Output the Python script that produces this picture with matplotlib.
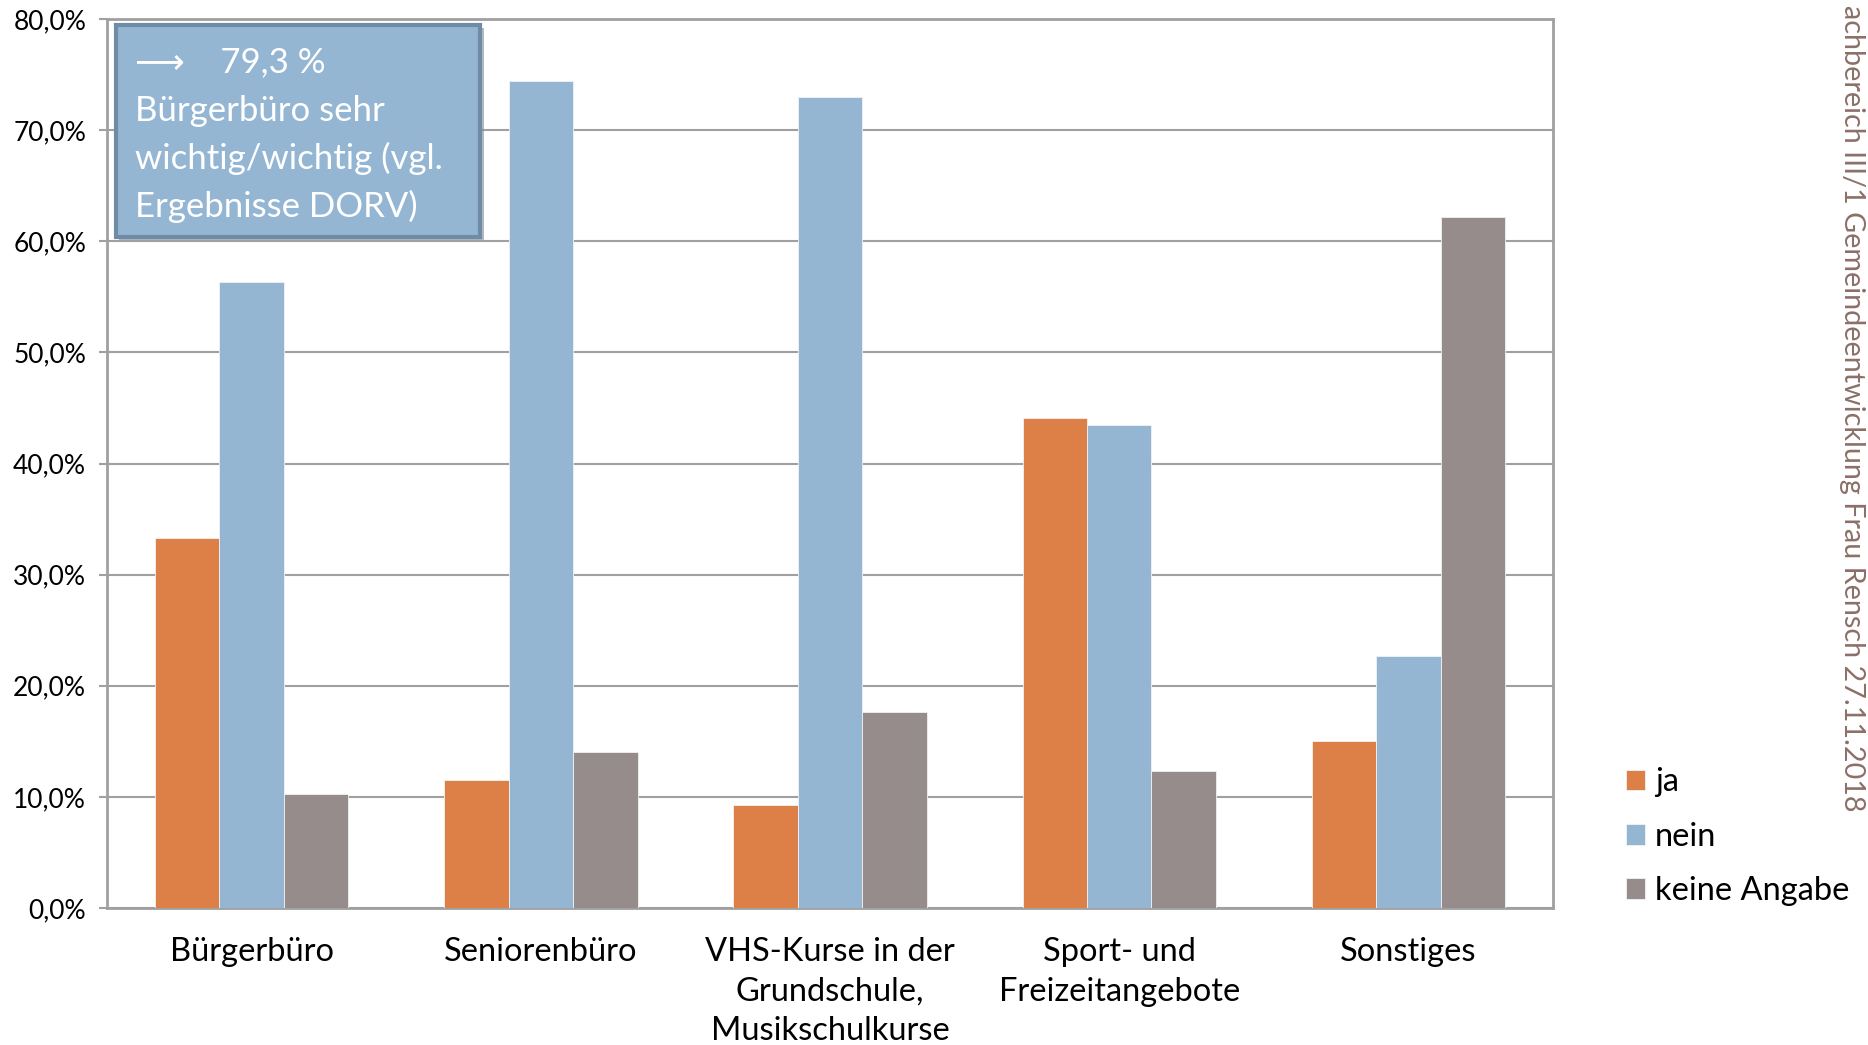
import matplotlib.pyplot as plt
from matplotlib.patches import FancyBboxPatch
import numpy as np

plt.rcParams['font.family'] = ['Lato', 'DejaVu Sans']

# data (percent)
categories = ['Bürgerbüro', 'Seniorenbüro', 'VHS-Kurse in der\nGrundschule,\nMusikschulkurse',
              'Sport- und\nFreizeitangebote', 'Sonstiges']
ja = [33.3, 11.5, 9.3, 44.1, 15.0]
nein = [56.3, 74.4, 73.0, 43.5, 22.7]
keine_angabe = [10.3, 14.0, 17.6, 12.3, 62.2]
series_names = ['ja', 'nein', 'keine Angabe']
colors = ['#DD8047', '#94B6D2', '#968C8C']
yticks = [0, 10, 20, 30, 40, 50, 60, 70, 80]

fig = plt.figure(figsize=(18.68, 10.45), dpi=100)
ax = fig.add_axes([0.0573, 0.1311, 0.7741, 0.8507])

x = np.arange(len(categories))
w = 0.223
for i, (vals, name, c) in enumerate(zip([ja, nein, keine_angabe], series_names, colors)):
    ax.bar(x + (i - 1) * w, vals, width=w, color=c, label=name,
           edgecolor='#F2F2F2', linewidth=0.6, zorder=3)

ax.set_xlim(-0.5, len(categories) - 0.5)
ax.set_ylim(0, 80)
ax.set_yticks(yticks)
ax.set_yticklabels([f'{v:.1f}%'.replace('.', ',') for v in yticks], fontsize=19)
ax.set_xticks(x)
ax.set_xticklabels(categories, fontsize=23.5, linespacing=1.4, va='top')
ax.tick_params(axis='x', length=0, pad=21)
ax.tick_params(axis='y', length=6, width=1.5, color='#A0A0A0', pad=9)
ax.grid(axis='y', color='#A0A0A0', linewidth=1.5, zorder=0)
for s in ax.spines.values():
    s.set_color('#A0A0A0')
    s.set_linewidth(2)

# legend
leg = ax.legend(loc='center left', bbox_to_anchor=(1.03, 0.08), frameon=False,
                fontsize=23.5, handlelength=0.6, handleheight=0.6, handletextpad=0.3,
                labelspacing=0.75)

# info box
shadow = FancyBboxPatch((0.0639, 0.7702), 0.1951, 0.2029, boxstyle='square,pad=0',
                        transform=fig.transFigure, facecolor='#7F8C99', edgecolor='none',
                        alpha=0.6, zorder=4)
box = FancyBboxPatch((0.0619, 0.7732), 0.1951, 0.2029, boxstyle='square,pad=0',
                     transform=fig.transFigure, facecolor='#94B6D2', edgecolor='#6F8BA6',
                     linewidth=3, zorder=5)
fig.patches.extend([shadow, box])
lines = ['⟶    79,3 %', 'Bürgerbüro sehr', 'wichtig/wichtig (vgl.', 'Ergebnisse DORV)']
ys = [0.9407, 0.8938, 0.8488, 0.8029]
for t, yy in zip(lines, ys):
    fig.text(0.0725, yy, t, color='white', fontsize=25, va='center', ha='left', zorder=6)

# footer on the right edge
fig.text(0.9915, 0.995, 'achbereich III/1 Gemeindeentwicklung Frau Rensch 27.11.2018',
         rotation=270, color='#8B7068', fontsize=20.7, va='top', ha='center')

plt.savefig('out.png', dpi=100)
